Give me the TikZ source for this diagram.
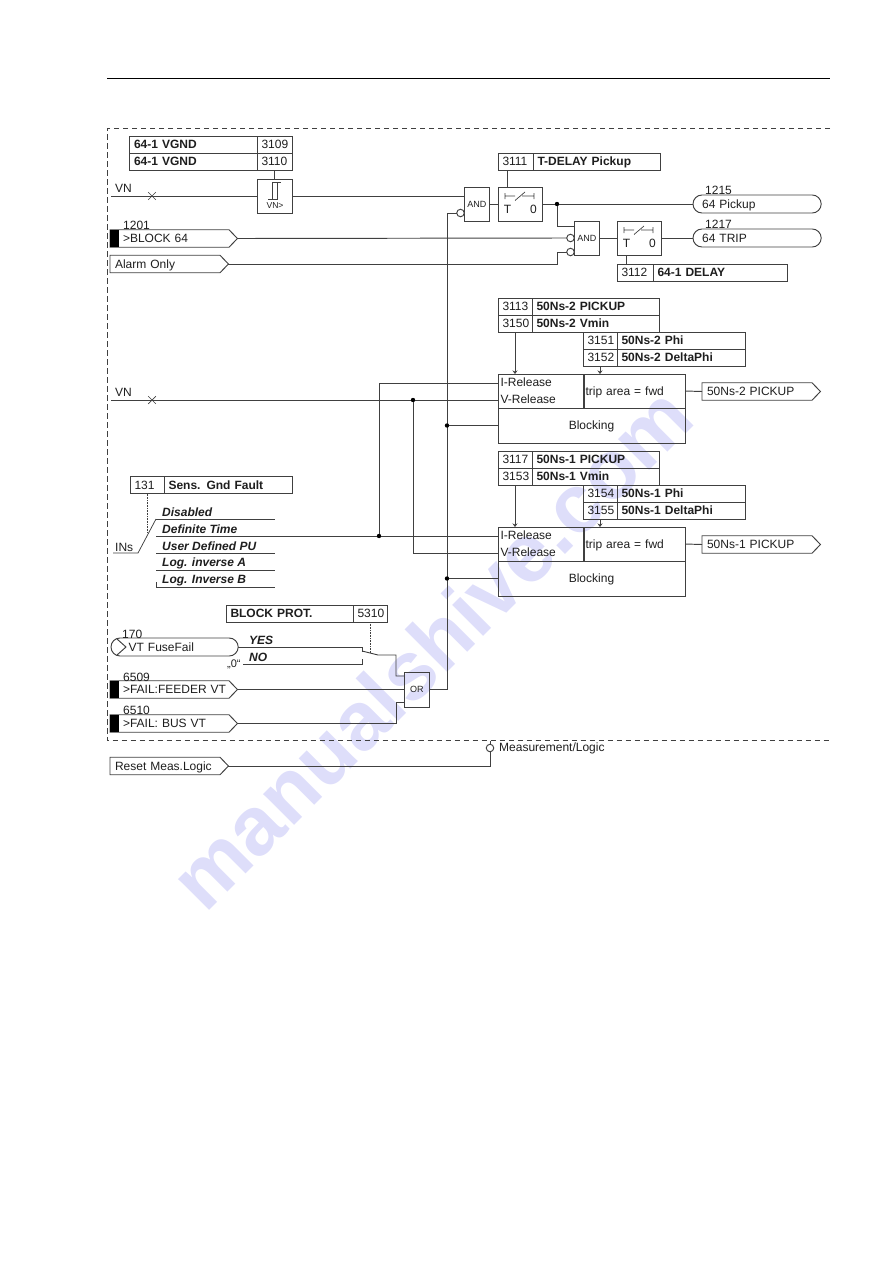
\documentclass[tikz,border=0pt]{standalone}
\usepackage{fontspec}
\setmainfont{Liberation Sans}
\usetikzlibrary{arrows.meta, shapes.misc, shapes.symbols}
\definecolor{WireGray}{HTML}{404040}
\definecolor{InkBlack}{HTML}{1E1E1E}
\definecolor{MarkBlue}{HTML}{DEDEFA}
\newcommand{\basefont}{\fontsize{12}{17}\selectfont}

\tikzset{
  wire/.style={draw=WireGray, line width=0.95pt},
  cell/.style={wire, anchor=north west, outer sep=0pt, inner xsep=4.5pt, inner ysep=0pt,
      minimum height=17pt, text height=8.6pt, text depth=0pt, align=left, text=InkBlack,
      text width=#1-9pt},
  boldcell/.style={cell=#1, font=\basefont\bfseries},
  blockbox/.style={wire, anchor=north west, outer sep=0pt, inner sep=0pt, text=InkBlack},
  gate/.style={blockbox, minimum width=25.5pt, minimum height=34pt, font=\fontsize{9}{10}\selectfont},
  flag/.style={wire, signal, signal to=east, signal pointer angle=92, anchor=west, outer sep=0pt,
      inner xsep=0pt, inner ysep=0pt, minimum height=17.5pt, text height=8.6pt, text depth=0pt,
      align=left, text=InkBlack, text width=#1-9pt, execute at begin node=\hspace*{5pt}},
  pill/.style={wire, rounded rectangle, anchor=west, outer sep=0pt, inner xsep=0pt, inner ysep=0pt,
      minimum height=18pt, text height=8.6pt, text depth=0pt, align=left, text=InkBlack,
      text width=#1-2pt, execute at begin node=\hspace*{8pt}},
  blackbar/.style={fill=black, anchor=west, inner sep=0pt, minimum width=9pt, minimum height=17.5pt},
  tag/.style={anchor=west, inner sep=0pt, text=InkBlack},
  seltext/.style={tag, font=\basefont\bfseries\itshape},
  neg/.style={wire, circle, fill=white, minimum size=7.5pt, inner sep=0pt, outer sep=0pt},
  dot/.style={circle, fill=black, minimum size=4.4pt, inner sep=0pt},
  crossmark/.style={wire, cross out, minimum size=7pt, inner sep=0pt, line width=0.7pt},
  setting/.style={draw=WireGray, line width=0.6pt, densely dotted},
  timerblock/.pic={
    \node[blockbox, minimum width=44pt, minimum height=34pt] (box) at (0,0) {};
    \draw[wire, line width=0.7pt] (7,6) -- (7,12) (7,9) -- (17,9) (17,13.5) -- (27,5) (24,9) -- (36,9) (36,6) -- (36,12);
    \node[text=InkBlack, inner sep=0pt] (tlabel) at (9.5,22.5) {T};
    \node[text=InkBlack, inner sep=0pt] (zlabel) at (35.5,22.5) {0};
  }
}

\begin{document}
\begin{tikzpicture}[x=1pt,y=-1pt,font=\basefont]
\useasboundingbox (0,0) rectangle (893,1263);

% page mark behind the logic
\node[anchor=base west, rotate=45, inner sep=0pt, text=MarkBlue, font=\fontsize{83}{83}\selectfont\bfseries] (pagemark) at (205.5,914.5) {manualshive.com};

% head rule and dashed frame
\coordinate (ruleL) at (107,78);
\coordinate (ruleR) at (830,78);
\draw[black, line width=1pt] (ruleL) -- (ruleR);
\coordinate (frameTR) at (830,128);
\coordinate (frameTL) at (107,128);
\coordinate (frameBL) at (107,740.5);
\coordinate (frameBR) at (830,740.5);
\draw[wire, dash pattern=on 5.5pt off 3.5pt] (frameTR) -- (frameTL) -- (frameBL) -- (frameBR);

% ground voltage stage
\node[boldcell=127.5] (c3109t) at (129.5,136) {64-1 VGND};
\node[cell=35] (c3109) at (257,136) {3109};
\node[boldcell=127.5] (c3110t) at (129.5,153) {64-1 VGND};
\node[cell=35] (c3110) at (257,153) {3110};
\node[blockbox, minimum width=35pt, minimum height=34pt] (thr) at (257,179) {};
\draw[wire, line width=0.7pt] (268,199) -- (277,199) -- (277,182) (272,199) -- (272,182) -- (281,182);
\node[font=\fontsize{8.6}{10}\selectfont, inner sep=0pt, text=InkBlack] (thrtext) at (275,205.5) {VN>};
\draw[wire] (c3110.south) -- (thr.north);
\node[tag] (vntext) at (115,188) {VN};
\coordinate (vnin) at (111,196);
\draw[wire] (vnin) -- (thr.west);
\node[crossmark] (vncross) at (152,196) {};

\node[gate] (and1) at (464,187) {AND};
\node[neg] (neg1) at (460.5,213) {};
\pic (timer1) at (498,187) {timerblock};
\node[cell=35] (c3111) at (498,153) {3111};
\node[boldcell=127] (c3111t) at (533,153) {T-DELAY Pickup};
\coordinate (t1in) at (507,170);
\coordinate (t1top) at (507,187);
\draw[wire] (t1in) -- (t1top);
\draw[wire] (thr.east) -- (and1.west |- thr.east);
\draw[wire] (and1.east) -- (timer1box.west);

% pickup and trip outputs
\node[pill=128] (o1215) at (693,204) {64 Pickup};
\node[tag] (n1215) at (705,190) {1215};
\node[pill=128] (o1217) at (693,238) {64 TRIP};
\node[tag] (n1217) at (705,224.5) {1217};
\node[gate] (and2) at (574,221) {AND};
\node[neg] (neg2a) at (570.5,238) {};
\node[neg] (neg2b) at (570.5,252) {};
\pic (timer2) at (617,221) {timerblock};
\node[cell=36] (c3112) at (617,264) {3112};
\node[boldcell=134] (c3112t) at (653,264) {64-1 DELAY};
\coordinate (t2bot) at (626,255);
\coordinate (t2set) at (626,264);
\draw[wire] (t2bot) -- (t2set);
\draw[wire] (timer1box.east) -- (o1215.west);
\node[dot] (dotpu) at (557,204) {};
\coordinate (and2in) at (574,226);
\draw[wire] (dotpu) |- (and2in);
\draw[wire] (and2.east) -- (timer2box.west);
\draw[wire] (timer2box.east) -- (o1217.west);

% binary inputs
\node[flag=128] (f1201) at (110,238.5) {\hspace*{8pt}>BLOCK 64};
\node[blackbar] (b1201) at (f1201.west) {};
\node[tag] (n1201) at (123,225) {1201};
\node[flag=119] (falarm) at (110,264) {Alarm Only};
\coordinate (alarmup) at (557,264);
\coordinate (alarmin) at (557,252);
\draw[wire] (f1201.east) -- (neg2a.west);
\draw[wire] (falarm.east) -- (alarmup) -- (alarmin) -- (neg2b.west);

% 50Ns stages, same layout twice
\foreach \st/\dy/\pa/\pb/\pc/\pd in {2/0/3113/3150/3151/3152, 1/153/3117/3153/3154/3155} {
  \node[cell=34] (p\pa) at (498,298+\dy) {\pa};
  \node[boldcell=127] (p\pa t) at (532,298+\dy) {50Ns-\st\ PICKUP};
  \node[cell=34] (p\pb) at (498,315+\dy) {\pb};
  \node[boldcell=127] (p\pb t) at (532,315+\dy) {50Ns-\st\ Vmin};
  \node[cell=34] (p\pc) at (583,332+\dy) {\pc};
  \node[boldcell=128] (p\pc t) at (617,332+\dy) {50Ns-\st\ Phi};
  \node[cell=34] (p\pd) at (583,349+\dy) {\pd};
  \node[boldcell=128] (p\pd t) at (617,349+\dy) {50Ns-\st\ DeltaPhi};
  \node[blockbox, minimum width=85pt, minimum height=34pt, align=left, text width=81pt, inner xsep=2.5pt] (rel\st) at (498,374+\dy) {I-Release\\V-Release};
  \node[blockbox, minimum width=102pt, minimum height=34pt, align=left, text width=97pt, inner xsep=2.5pt, text height=8.6pt, text depth=0pt] (trip\st) at (583,374+\dy) {trip area = fwd};
  \node[blockbox, minimum width=187pt, minimum height=35pt, text height=8.6pt, text depth=0pt] (blk\st) at (498,408+\dy) {Blocking};
  \node[flag=119] (out\st) at (702,391.5+\dy) {50Ns-\st\ PICKUP};
  \draw[wire] (trip\st.east) -- (out\st.west);
  \coordinate (rel\st a) at (515,332+\dy);
  \coordinate (rel\st b) at (515,374+\dy);
  \coordinate (trip\st a) at (600,366+\dy);
  \coordinate (trip\st b) at (600,374+\dy);
  \draw[wire, -{Stealth[length=3.5pt,width=5pt]}] (rel\st a) -- (rel\st b);
  \draw[wire, -{Stealth[length=3.5pt,width=5pt]}] (trip\st a) -- (trip\st b);
  \coordinate (irel\st) at (498,383+\dy);
  \coordinate (vrel\st) at (498,400+\dy);
}

% VN and INs feeds
\coordinate (vnb) at (111,400);
\node[tag] (vnbtext) at (115,392) {VN};
\draw[wire] (vnb) -- (vrel2);
\node[crossmark] (vnbcross) at (152,400) {};
\node[dot] (dotv) at (413,400) {};
\coordinate (vbend) at (413,553);
\draw[wire] (dotv) -- (vbend) -- (vrel1);
\coordinate (ifeed) at (156,536);
\draw[wire] (ifeed) -- (irel1);
\node[dot] (doti) at (379,536) {};
\coordinate (ibend) at (379,383);
\draw[wire] (doti) -- (ibend) -- (irel2);

% sensitive ground fault selector
\node[cell=34] (c131) at (130,476.5) {131};
\node[boldcell=128] (c131t) at (164,476.5) {Sens. Gnd Fault};
\foreach \nm/\txt/\yy in {sa/Disabled/519, sb/Definite Time/536, sc/User Defined PU/553, sd/Log. inverse A/570, se/Log. Inverse B/587} {
  \node[seltext] (\nm text) at (162,\yy-6.5) {\txt};
  \coordinate (\nm L) at (156,\yy);
  \coordinate (\nm R) at (275,\yy);
  \draw[wire, line width=0.75pt] (\nm L) -- (\nm R);
}
\coordinate (setick) at (156,582);
\draw[wire, line width=0.75pt] (setick) -- (seL);
\node[tag] (instext) at (115,547) {INs};
\coordinate (insin) at (113,553);
\coordinate (insarm) at (138,553);
\draw[wire, line width=0.75pt] (insin) -- (insarm) -- (saL);
\coordinate (insdot) at (147,533);
\draw[setting] (c131.south) -- (insdot);

% fuse failure and OR gate
\node[boldcell=127] (c5310t) at (226,605) {BLOCK PROT.};
\node[cell=34] (c5310) at (353,605) {5310};
\node[pill=127] (ffuse) at (111,647) {\hspace*{8.5pt}VT FuseFail};
\node[tag] (n170) at (122,634) {170};
\coordinate (chevA) at (117,639);
\coordinate (chevB) at (126,647);
\coordinate (chevC) at (117,655);
\draw[wire] (chevA) -- (chevB) -- (chevC);
\node[seltext] (yestext) at (249,640) {YES};
\node[seltext] (notext) at (249,657) {NO};
\node[tag, font=\fontsize{11}{12}\selectfont] (zerotext) at (227,664) {„0“};
\coordinate (yesend) at (362,647);
\coordinate (yestick) at (362,652);
\coordinate (nostart) at (243,664);
\coordinate (noend) at (362,664);
\coordinate (notick) at (362,659);
\draw[wire] (ffuse.east) -- (yesend) -- (yestick);
\draw[wire] (nostart) -- (noend) -- (notick);
\coordinate (armA) at (362,651);
\coordinate (armB) at (378,655);
\coordinate (armC) at (396,655);
\coordinate (armD) at (396,676);
\coordinate (armE) at (404,676);
\draw[wire] (armA) -- (armB) -- (armC) -- (armD) -- (armE);
\coordinate (setdot) at (370,653);
\draw[setting] (c5310.south) -- (setdot);

\node[gate, minimum height=35pt] (orgate) at (404,672) {OR};
\node[flag=128] (f6509) at (110,689.5) {\hspace*{8pt}>FAIL:FEEDER VT};
\node[blackbar] (b6509) at (f6509.west) {};
\node[tag] (n6509) at (123,677) {6509};
\node[flag=128] (f6510) at (110,723.5) {\hspace*{8pt}>FAIL: BUS VT};
\node[blackbar] (b6510) at (f6510.west) {};
\node[tag] (n6510) at (123,710.5) {6510};
\draw[wire] (f6509.east) -- (orgate.west);
\coordinate (busA) at (396,723.5);
\coordinate (busB) at (396,702.5);
\coordinate (busC) at (404,702.5);
\draw[wire] (f6510.east) -- (busA) -- (busB) -- (busC);

% blocking rail
\coordinate (railbot) at (447,689.5);
\coordinate (railtop) at (447,213);
\draw[wire] (orgate.east) -- (railbot) -- (railtop) -- (neg1.west);
\node[dot] (dotb2) at (447,425.5) {};
\node[dot] (dotb1) at (447,578.5) {};
\draw[wire] (dotb2) -- (blk2.west);
\draw[wire] (dotb1) -- (blk1.west);

% reset below the frame
\node[flag=119] (freset) at (110,766) {Reset Meas.Logic};
\node[neg] (negreset) at (490,748) {};
\coordinate (resetbend) at (490,766);
\coordinate (resettop) at (490,741);
\draw[wire] (freset.east) -- (resetbend) -- (negreset.south);
\draw[wire] (negreset.north) -- (resettop);
\node[tag] (resettext) at (499,748) {Measurement/Logic};
\end{tikzpicture}
\end{document}
